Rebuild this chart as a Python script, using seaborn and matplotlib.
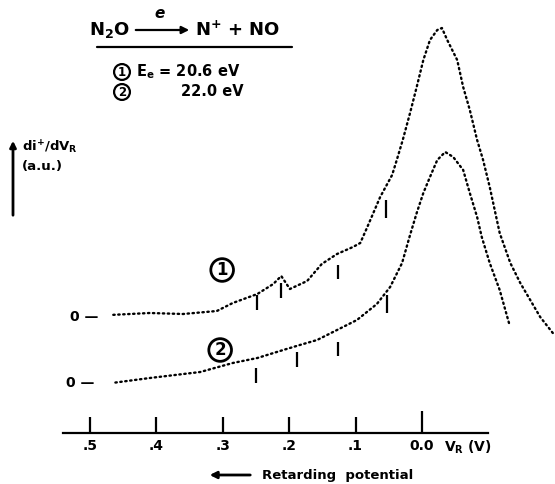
import matplotlib
matplotlib.use("Agg")
import matplotlib.pyplot as plt
import seaborn as sns
import pandas as pd

# retarding potential V_R (V) and di+/dV_R (a.u., above own zero line)
v1 = [0.470, 0.410, 0.360, 0.309, 0.285, 0.248, 0.224, 0.212, 0.199, 0.173,
      0.151, 0.128, 0.104, 0.093, 0.083, 0.063, 0.045, 0.038, 0.029, 0.018,
      0.008, -0.002, -0.012, -0.023, -0.030, -0.038, -0.053, -0.062, -0.072,
      -0.083, -0.092, -0.102, -0.117, -0.133, -0.148, -0.163, -0.178, -0.197]
i1 = [0.2, 0.4, 0.3, 0.6, 1.4, 2.3, 3.3, 4.1, 2.8, 3.6,
      5.3, 6.3, 7.0, 7.4, 8.9, 12.0, 14.2, 15.7, 17.7, 20.4,
      23.0, 25.7, 27.7, 28.7, 28.9, 27.7, 25.7, 23.0, 20.7,
      17.7, 15.7, 13.0, 8.4, 5.4, 3.4, 1.7, 0.0, -1.6]

v2 = [0.467, 0.410, 0.334, 0.285, 0.248, 0.209, 0.184, 0.158, 0.131, 0.098,
      0.068, 0.048, 0.030, 0.018, 0.008, -0.002, -0.012, -0.023, -0.035,
      -0.047, -0.062, -0.072, -0.083, -0.090, -0.102, -0.117, -0.131]
i2 = [0.0, 0.5, 1.1, 2.0, 2.5, 3.3, 3.8, 4.3, 5.2, 6.3,
      7.9, 9.6, 12.0, 14.8, 17.0, 19.0, 20.6, 22.3, 23.1,
      22.6, 21.3, 19.0, 16.6, 14.6, 12.0, 9.3, 6.0]

# zero lines of the two traces
offset1 = 11.6
offset2 = 5.0

# structure marks: position, top of mark (a.u. above zero line), mark length
mark1_v = [0.248, 0.212, 0.127, 0.054]
mark1_top = [2.2, 3.4, 5.2, 11.7]
mark2_v = [0.250, 0.188, 0.127, 0.053]
mark2_top = [1.5, 3.1, 4.1, 8.8]
mark_len = [1.5, 1.5, 1.4, 1.8]

xticks = [0.5, 0.4, 0.3, 0.2, 0.1, 0.0]
xticklabels = [".5", ".4", ".3", ".2", ".1", "0.0"]

df = pd.concat([
    pd.DataFrame({"V": v1, "I": [y + offset1 for y in i1], "run": "1"}),
    pd.DataFrame({"V": v2, "I": [y + offset2 for y in i2], "run": "2"}),
])

sns.set_style("white")
plt.rcParams["font.family"] = ["DejaVu Sans"]
plt.rcParams["font.weight"] = "bold"
plt.rcParams["text.color"] = "black"

fig = plt.figure(figsize=(5.55, 4.84), dpi=100)
ax = fig.add_axes([63 / 555, 51 / 484, 425 / 555, 433 / 484])

sns.lineplot(data=df, x="V", y="I", units="run", estimator=None, color="black",
             linewidth=1.7, linestyle=(0, (0.6, 1.5)), dash_capstyle="round",
             legend=False, ax=ax)
for ln in ax.lines:
    ln.set_clip_on(False)

ax.vlines(mark1_v, [offset1 + t - l for t, l in zip(mark1_top, mark_len)],
          [offset1 + t for t in mark1_top], color="black", lw=1.6, clip_on=False)
ax.vlines(mark2_v, [offset2 + t - l for t, l in zip(mark2_top, mark_len)],
          [offset2 + t for t in mark2_top], color="black", lw=1.6, clip_on=False)

ax.set_xlim(0.5407, -0.0994)
ax.set_ylim(0, 43.3)
ax.set_xlabel("")
ax.set_ylabel("")
ax.set_yticks([])
ax.set_xticks(xticks)
ax.set_xticklabels(xticklabels, fontweight="bold", fontsize=10)
ax.tick_params(axis="x", bottom=True, direction="in", length=11.5, width=1.6, pad=4,
               colors="black")
ax.xaxis.get_major_ticks()[-1].tick1line.set_markersize(16)
for s in ["left", "right", "top"]:
    ax.spines[s].set_visible(False)
ax.spines["bottom"].set_linewidth(1.6)
ax.spines["bottom"].set_color("black")

circ = dict(boxstyle="circle,pad=0.14", fc="white", ec="black", lw=2)

# axis text
ax.text(-0.033, -1.4, "V$_\\mathbf{R}$ (V)", fontsize=10, fontweight="bold",
        va="center", ha="left", clip_on=False)
ax.annotate("", xy=(0.324, -4.2), xytext=(0.2545, -4.2),
            arrowprops=dict(arrowstyle="-|>", color="black", lw=2, mutation_scale=10),
            annotation_clip=False)
ax.text(0.241, -4.2, "Retarding  potential", fontsize=9.5, fontweight="bold",
        va="center", ha="left", clip_on=False)

# zero lines and trace numbers
ax.text(0.487, offset1, "0 —", fontsize=10, fontweight="bold", va="center", ha="right")
ax.text(0.494, offset2, "0 —", fontsize=10, fontweight="bold", va="center", ha="right")
ax.text(0.301, 16.3, "1", fontsize=12, fontweight="bold", va="center", ha="center", bbox=circ)
ax.text(0.304, 8.3, "2", fontsize=12, fontweight="bold", va="center", ha="center", bbox=circ)

# y label with arrow
fig.patches.append(matplotlib.patches.FancyArrowPatch(
    (13 / 555, 1 - 218 / 484), (13 / 555, 1 - 138 / 484), transform=fig.transFigure,
    arrowstyle="-|>", mutation_scale=9, color="black", lw=2))
fig.text(22 / 555, 1 - 147 / 484, "di$^{+}$/dV$_\\mathbf{R}$", fontsize=9.5,
         fontweight="bold", va="center", ha="left")
fig.text(22 / 555, 1 - 166 / 484, "(a.u.)", fontsize=9.5, fontweight="bold",
         va="center", ha="left")

# reaction title
fig.text(130 / 555, 1 - 30 / 484, "N$_\\mathbf{2}$O", fontsize=13, fontweight="bold",
         va="center", ha="right")
fig.patches.append(matplotlib.patches.FancyArrowPatch(
    (133 / 555, 1 - 30 / 484), (192 / 555, 1 - 30 / 484), transform=fig.transFigure,
    arrowstyle="-|>", mutation_scale=11, color="black", lw=1.6))
fig.text(160 / 555, 1 - 14 / 484, "e", fontsize=11, fontweight="bold", style="italic",
         va="center", ha="center")
fig.text(195 / 555, 1 - 30 / 484, "N$^{\\mathbf{+}}$ + NO", fontsize=13,
         fontweight="bold", va="center", ha="left")
fig.add_artist(matplotlib.lines.Line2D([97 / 555, 292 / 555], [1 - 47 / 484, 1 - 47 / 484],
                                       transform=fig.transFigure, color="black", lw=1.6))

small = dict(boxstyle="circle,pad=0.12", fc="white", ec="black", lw=1.6)
fig.text(122 / 555, 1 - 72 / 484, "1", fontsize=8.5, fontweight="bold", va="center",
         ha="center", bbox=small)
fig.text(136 / 555, 1 - 72 / 484, "E$_\\mathbf{e}$ = 20.6 eV", fontsize=10.5,
         fontweight="bold", va="center", ha="left")
fig.text(122 / 555, 1 - 92 / 484, "2", fontsize=8.5, fontweight="bold", va="center",
         ha="center", bbox=small)
fig.text(181 / 555, 1 - 92 / 484, "22.0 eV", fontsize=10.5, fontweight="bold",
         va="center", ha="left")

fig.savefig("out.png", dpi=100)
